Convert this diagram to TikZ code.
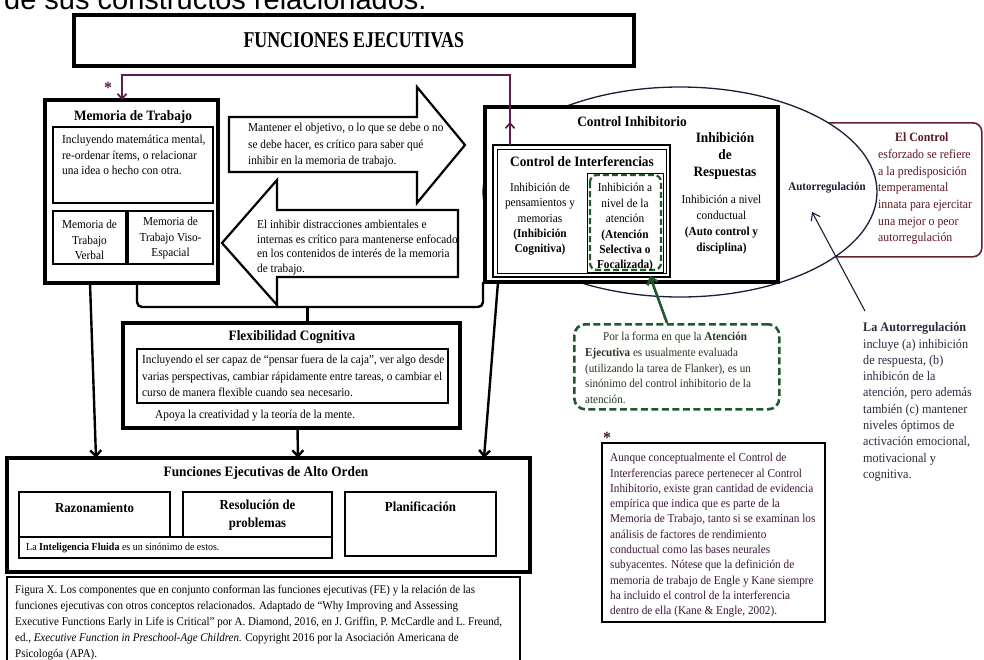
\documentclass[tikz,border=0pt]{standalone}
\usepackage{fontspec}
\setmainfont{Liberation Serif}[FakeStretch=0.93]
\newfontfamily\topsans{Liberation Sans}
\usetikzlibrary{arrows.meta,shapes.geometric,calc}
\definecolor{purp}{HTML}{5B1B4F}
\definecolor{brn}{HTML}{6A1E2A}
\definecolor{brntxt}{HTML}{5A1822}
\definecolor{gdash}{HTML}{1F5A2C}
\definecolor{gtext}{HTML}{24361F}
\definecolor{navy}{HTML}{1C1C3C}
\definecolor{notep}{HTML}{3E1538}
\definecolor{autot}{HTML}{2A2A3E}
\newcommand\mkbox[6]{\node[#2, anchor=north west, inner sep=0pt, outer sep=0pt, minimum width={(#5-#3)*1pt}, minimum height={(#6-#4)*1pt}] (#1) at (#3,#4) {};}
\tikzset{
  heavybox/.style={draw, line width=3.6pt, fill=white},
  midbox/.style={draw, line width=1.4pt, fill=white},
  thinbox/.style={draw, line width=1.1pt, fill=white},
  dblbox/.style={draw, line width=0.7pt, double, double distance=1.2pt},
  body/.style={inner sep=0pt, font=\fontsize{12.15}{16}\selectfont},
  ttl/.style={inner sep=0pt, font=\fontsize{14.3}{17}\selectfont\bfseries},
  tip/.style={-{Straight Barb[length=6pt,width=11pt]}},
  conn/.style={line width=2.4pt, tip},
  blockarrow/.style={draw, line width=2.2pt, fill=white, line join=miter},
}
\begin{document}
\begin{tikzpicture}[x=1pt,y=-1pt]
\useasboundingbox (0,0) rectangle (984,659);
\clip (0,0) rectangle (984,659);
\fill[white] (0,0) rectangle (984,659);

% clipped text of the page above
\node[anchor=base west, inner sep=0pt, font=\topsans\fontsize{29}{30}\selectfont] (toptxt) at (4,9) {de sus constructos relacionados.};

% title
\node[heavybox, anchor=north west, inner sep=0pt, minimum width=560pt, minimum height=51pt] (title) at (72,13) {\scalebox{0.85}[1]{\fontsize{22.6}{24}\selectfont\bfseries FUNCIONES EJECUTIVAS}};

% brown box (behind ellipse)
\node[draw=brn, line width=1.6pt, rounded corners=9pt, anchor=north west, inner sep=0pt, minimum width=181pt, minimum height=134pt] (ctrl) at (800,122) {};

% ellipse
\node[ellipse, draw=navy, line width=1.3pt, fill=white, minimum width=394pt, minimum height=210pt, inner sep=0pt] (ell) at (680,192) {};

% Control inhibitorio
\mkbox{ci}{heavybox}{485}{107}{778}{282}
\node[ttl] (citxt) at (632,122) {Control Inhibitorio};
\mkbox{cint}{draw, line width=2.6pt, fill=white}{493}{145}{670}{277}
\mkbox{cintin}{draw, line width=0.7pt}{497}{149}{666}{273}
\node[ttl] (cinttxt) at (582,162) {Control de Interferencias};
\mkbox{ip}{dblbox}{500}{173}{580}{272}
\node[body, font=\fontsize{12.15}{15.2}\selectfont, align=center, anchor=north] (iptxt) at (540,180.9) {\strut Inhibición de\\pensamientos y\\memorias\\\textbf{(Inhibición}\\\textbf{Cognitiva)}};
\mkbox{ia}{draw, line width=0.8pt}{587}{173}{663}{272}
\draw[gdash, line width=2.2pt, dash pattern=on 6pt off 3pt, rounded corners=7pt] (590,175) rectangle (661,270);
\node[body, font=\fontsize{12.15}{15.4}\selectfont, align=center, anchor=north] (iatxt) at (625,180.9) {\strut Inhibición a\\nivel de la\\atención\\\textbf{(Atención}\\\textbf{Selectiva o}\\\textbf{Focalizada)}};
\node[ttl, align=center, anchor=north] (irtxt) at (725,130.1) {\strut Inhibición\\de\\Respuestas};
\mkbox{ic}{dblbox}{673}{187}{770}{275}
\node[body, align=center, anchor=north] (ictxt) at (721.5,192.3) {\strut Inhibición a nivel\\conductual\\\textbf{(Auto control y}\\\textbf{disciplina)}};

% autorregulacion and brown text
\node[inner sep=0pt, navy, font=\fontsize{11.8}{13}\selectfont\bfseries] (autotxt) at (827,188) {Autorregulación};
\node[inner sep=0pt, brntxt, align=left, anchor=north west, font=\fontsize{12.7}{16.7}\selectfont] (ctrltxt) at (878,129.8) {\strut\hspace*{17pt}\textbf{El Control}\\esforzado se refiere\\a la predisposición\\temperamental\\innata para ejercitar\\una mejor o peor\\autorregulación};

% Memoria de trabajo
\mkbox{mem}{heavybox}{45}{100}{218}{283}
\node[ttl] (memtxt) at (133,117) {Memoria de Trabajo};
\mkbox{m1}{midbox}{53}{127}{213}{203}
\node[body, font=\fontsize{12.25}{15.5}\selectfont, align=left, anchor=north west] (m1txt) at (62,132.6) {\strut Incluyendo matemática mental,\\re-ordenar ítems, o relacionar\\una idea o hecho con otra.};
\mkbox{m2}{midbox}{53}{211}{126}{264}
\node[body, font=\fontsize{12.15}{15.3}\selectfont, align=center, anchor=north] (m2txt) at (89.5,217.8) {\strut Memoria de\\Trabajo\\Verbal};
\mkbox{m3}{midbox}{128}{211}{213}{264}
\node[body, font=\fontsize{12.15}{15.3}\selectfont, align=center, anchor=north] (m3txt) at (170.5,214.8) {\strut Memoria de\\Trabajo Viso-\\Espacial};

% block arrows
\draw[blockarrow] (229,117) -- (417,117) -- (417,87) -- (465,145) -- (417,203) -- (417,172) -- (229,172) -- cycle;
\node[body, font=\fontsize{12.15}{16.3}\selectfont, align=left, anchor=north west] (ratxt) at (248,120.1) {\strut Mantener el objetivo, o lo que se debe o no\\se debe hacer, es crítico para saber qué\\inhibir en la memoria de trabajo.};
\draw[blockarrow] (222,243) -- (277,180) -- (277,210) -- (458,210) -- (458,277) -- (277,277) -- (277,305) -- cycle;
\node[body, font=\fontsize{12.15}{14.5}\selectfont, align=left, anchor=north west] (latxt) at (257,218.4) {\strut El inhibir distracciones ambientales e\\internas es crítico para mantenerse enfocado\\en los contenidos de interés de la memoria\\de trabajo.};

% purple connector
\coordinate (pu1) at ($(cint.north west)+(17,0)$);
\coordinate (pu2) at ($(pu1)+(0,-70)$);
\coordinate (pu3) at ($(mem.north west)+(77,0)$);
\draw[purp, line width=1.7pt, -{Straight Barb[length=5pt,width=9pt]}] (pu1) -- (pu2) -| (pu3);
\draw[purp, line width=1.7pt, -{Straight Barb[length=5pt,width=9pt]}] (pu1) -- ($(pu1)+(0,-23)$);
\node[purp, inner sep=0pt, font=\fontsize{17}{17}\selectfont\bfseries] (ast1) at (108,88) {*};

% Flexibilidad
\mkbox{flex}{heavybox}{123}{323}{460}{428}
\node[ttl] (flextxt) at (292,337) {Flexibilidad Cognitiva};
\mkbox{flexin}{midbox}{137}{349}{448}{403}
\node[body, font=\fontsize{12.05}{16.5}\selectfont, align=left, anchor=north west] (flexintxt) at (142,352) {\strut Incluyendo el ser capaz de “pensar fuera de la caja”, ver algo desde\\varias perspectivas, cambiar rápidamente entre tareas, o cambiar el\\curso de manera flexible cuando sea necesario.};
\node[body, anchor=west] (apoya) at (155,416) {Apoya la creatividad y la teoría de la mente.};

% Alto orden
\mkbox{alto}{heavybox}{7}{458}{530}{572}
\node[ttl] (altotxt) at (266,473) {Funciones Ejecutivas de Alto Orden};
\mkbox{raz}{midbox}{19}{492}{170}{537}
\mkbox{res}{midbox}{183}{492}{332}{537}
\mkbox{plan}{midbox}{345}{492}{496}{556}
\mkbox{intel}{draw, line width=1.8pt, fill=white}{19}{537}{332}{558}
\node[inner sep=0pt, font=\fontsize{13.75}{18}\selectfont\bfseries] (raztxt) at (94.5,508) {Razonamiento};
\node[inner sep=0pt, font=\fontsize{13.75}{18}\selectfont\bfseries, align=center, anchor=north] (restxt) at (257.5,496.4) {\strut Resolución de\\problemas};
\node[inner sep=0pt, font=\fontsize{13.75}{18}\selectfont\bfseries] (plantxt) at (420.5,507) {Planificación};
\node[inner sep=0pt, anchor=west, font=\fontsize{10.75}{12}\selectfont] (inteltxt) at (26,547.5) {La \textbf{Inteligencia Fluida} es un sinónimo de estos.};

% caption
\mkbox{cap}{midbox}{7}{577}{520}{668}
\node[inner sep=0pt, align=left, anchor=north west, font=\fontsize{11.8}{16.2}\selectfont] (captxt) at (15,581.5) {\strut Figura X. Los componentes que en conjunto conforman las funciones ejecutivas (FE) y la relación de las\\funciones ejecutivas con otros conceptos relacionados. Adaptado de “Why Improving and Assessing\\Executive Functions Early in Life is Critical” por A. Diamond, 2016, en J. Griffin, P. McCardle and L. Freund,\\ed., \textit{Executive Function in Preschool-Age Children}. Copyright 2016 por la Asociación Americana de\\Psicologóa (APA).};

% connectors to lower boxes
\coordinate (bl) at ($(mem.south west)+(92,0)$);
\coordinate (br) at ($(ci.south west)+(-2,0)$);
\coordinate (bj) at ($(flex.north)+(16,-16)$);
\draw[line width=2.4pt, rounded corners=5pt] (bl) |- (bj) -| (br);
\draw[line width=2.4pt] (bj) -- (bj |- flex.north);
\draw[conn] ($(mem.south west)+(45,0)$) -- ($(alto.north west)+(89,0)$);
\draw[conn] ($(flex.south)+(6,0)$) -- ($(alto.north west)+(291,0)$);
\draw[conn] ($(ci.south west)+(13,0)$) -- ($(alto.north west)+(477,0)$);

% green dashed note
\node[draw=gdash, line width=2.6pt, dash pattern=on 7pt off 3.5pt, rounded corners=11pt, anchor=north west, inner sep=0pt, minimum width=205pt, minimum height=85pt] (gbox) at (573,323) {};
\node[inner sep=0pt, gtext, align=left, anchor=north west, font=\fontsize{11.95}{15.7}\selectfont] (gtxt) at (585,329.5) {\strut\hspace*{18pt}Por la forma en que la \textbf{Atención}\\\textbf{Ejecutiva} es usualmente evaluada\\(utilizando la tarea de Flanker), es un\\sinónimo del control inhibitorio de la\\atención.};
\draw[gdash, line width=2.6pt, tip] ($(gbox.north west)+(94,0)$) -- ($(ia.south west)+(63,4)$);

% asterisk note
\node[notep, inner sep=0pt, font=\fontsize{17}{17}\selectfont\bfseries] (ast2) at (607,438) {*};
\mkbox{note}{midbox}{602}{443}{825}{622}
\node[inner sep=0pt, notep, align=left, anchor=north west, font=\fontsize{12.1}{15.3}\selectfont] (notetxt) at (610,450.8) {\strut Aunque conceptualmente el Control de\\Interferencias parece pertenecer al Control\\Inhibitorio, existe gran cantidad de evidencia\\empírica que indica que es parte de la\\Memoria de Trabajo, tanto si se examinan los\\análisis de factores de rendimiento\\conductual como las bases neurales\\subyacentes. Nótese que la definición de\\memoria de trabajo de Engle y Kane siempre\\ha incluido el control de la interferencia\\dentro de ella (Kane \& Engle, 2002).};

% autorregulacion note
\node[inner sep=0pt, autot, align=left, anchor=north west, font=\fontsize{13.1}{16.3}\selectfont] (autonote) at (863,320.1) {\strut\textbf{La Autorregulación}\\incluye (a) inhibición\\de respuesta, (b)\\inhibicón de la\\atención, pero además\\también (c) mantener\\niveles óptimos de\\activación emocional,\\motivacional y\\cognitiva.};
\coordinate (atail) at ($(autonote.north west)+(2,-9)$);
\coordinate (atip) at (812,212);
\draw[navy, line width=1.1pt, -{Straight Barb[length=7pt,width=10pt]}] (atail) -- (atip);
\end{tikzpicture}
\end{document}
